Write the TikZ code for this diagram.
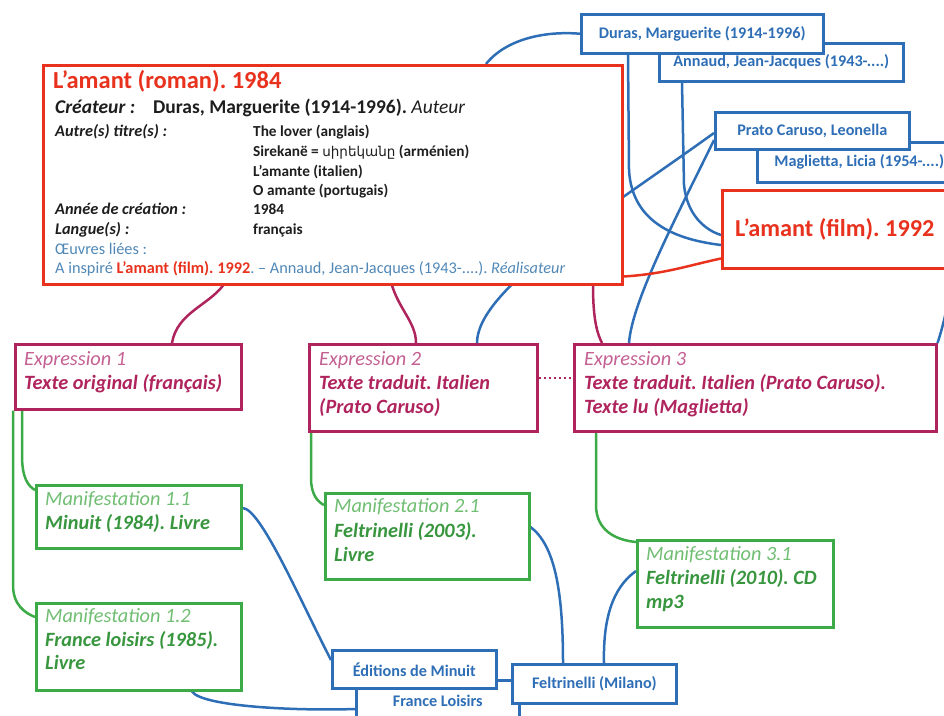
\documentclass[tikz,border=0pt]{standalone}
\usepackage{fontspec}
\setmainfont{Carlito}
\newfontfamily\armfont{DejaVu Sans}
\usetikzlibrary{calc}
\definecolor{cred}{RGB}{232,50,30}
\definecolor{cblue}{RGB}{46,110,182}
\definecolor{cmag}{RGB}{176,36,94}
\definecolor{cmagl}{RGB}{196,96,146}
\definecolor{cgreen}{RGB}{60,170,70}
\definecolor{cgreenl}{RGB}{112,190,114}
\definecolor{cgreent}{RGB}{56,150,62}
\definecolor{cteal}{RGB}{80,136,184}
\definecolor{cdark}{RGB}{30,30,30}
\pgfdeclarelayer{bg}
\pgfsetlayers{bg,main}
\newcommand{\valfnt}{\fontsize{15.3}{17}\selectfont}
\newcommand{\lblfnt}{\fontsize{16.3}{18}\selectfont}
\newcommand{\midfnt}{\fontsize{20.3}{22}\selectfont}
\frenchspacing
\begin{document}
\begin{tikzpicture}[x=1pt,y=-1pt,
 box/.style={anchor=north west, inner sep=0pt, fill=white, line width=2.5pt},
 redbox/.style={box,draw=cred},
 bluebox/.style={box,draw=cblue,text=cblue,font=\fontsize{16.2}{18}\selectfont\bfseries},
 magbox/.style={box,draw=cmag},
 greenbox/.style={box,draw=cgreen},
 txt/.style={anchor=base west, inner sep=0pt},
 bl/.style={draw=cblue,line width=2.5pt},
 ml/.style={draw=cmag,line width=2.5pt},
 gl/.style={draw=cgreen,line width=2.5pt},
 rl/.style={draw=cred,line width=2.5pt},
 exphead/.style={txt,text=cmagl,font=\midfnt\itshape},
 expbody/.style={txt,text=cmag,font=\midfnt\bfseries\itshape},
 manhead/.style={txt,text=cgreenl,font=\midfnt\itshape},
 manbody/.style={txt,text=cgreent,font=\midfnt\bfseries\itshape},
 lbl/.style={txt,text=cdark,font=\lblfnt\bfseries\itshape},
 val/.style={txt,text=cdark,font=\valfnt\bfseries},
]
\useasboundingbox (0,0) rectangle (944,715);
\clip (0,0) rectangle (944,715);

% ---------- boxes ----------
\node[redbox, minimum width=579pt, minimum height=219pt] (roman) at (42,64) {};
\node[redbox, minimum width=225pt, minimum height=78pt, text=cred, font=\fontsize{24.3}{26}\selectfont\bfseries] (film) at (721,189) {L’amant (film). 1992};

\node[bluebox, minimum width=244pt, minimum height=38pt] (annaud) at (658,42) {Annaud, Jean-Jacques (1943-....)};
\node[bluebox, minimum width=242pt, minimum height=39pt] (duras) at (580,13) {Duras, Marguerite (1914-1996)};
\node[bluebox, minimum width=204pt, minimum height=40pt] (maglietta) at (756,141) {Maglietta, Licia (1954-....)};
\node[bluebox, minimum width=194pt, minimum height=37pt] (prato) at (714,111) {Prato Caruso, Leonella};

\node[magbox, minimum width=226pt, minimum height=65pt] (e1) at (14,343) {};
\node[magbox, minimum width=228pt, minimum height=87pt] (e2) at (308,343) {};
\node[magbox, minimum width=362pt, minimum height=87pt] (e3) at (573,343) {};

\node[greenbox, minimum width=205pt, minimum height=63pt] (m11) at (35,484) {};
\node[greenbox, minimum width=205pt, minimum height=87pt] (m12) at (35,602) {};
\node[greenbox, minimum width=204pt, minimum height=86pt] (m21) at (324,492) {};
\node[greenbox, minimum width=196pt, minimum height=87pt] (m31) at (636,539) {};

\node[bluebox, minimum width=163pt, minimum height=42pt] (france) at (355,679) {France Loisirs};
\node[bluebox, minimum width=164pt, minimum height=38pt] (editions) at (331,649) {Éditions de Minuit};
\node[bluebox, minimum width=164pt, minimum height=39pt] (feltr) at (511,663) {Feltrinelli (Milano)};

% ---------- texts of the work box ----------
\node[txt, text=cred, font=\fontsize{24.5}{26}\selectfont\bfseries] (title) at (53,88) {L’amant (roman). 1984};
\node[txt, text=cdark, font=\fontsize{19.5}{21}\selectfont\bfseries\itshape] (crea) at (55,113) {Créateur :};
\node[txt, text=cdark, font=\fontsize{19.5}{21}\selectfont\bfseries] (creaval) at (153,113) {Duras, Marguerite (1914-1996). {\mdseries\itshape Auteur}};
\node[lbl] (lautre) at (55,136) {Autre(s) titre(s) :};
\node[val] (v1) at (253,136) {The lover (anglais)};
\node[val] (v2) at (253,156) {Sirekanë = {\armfont\mdseries\fontsize{13.5}{15}\selectfont սիրեկանը} (arménien)};
\node[val] (v3) at (253,176) {L’amante (italien)};
\node[val] (v4) at (253,195) {O amante (portugais)};
\node[lbl] (lannee) at (55,214) {Année de création :};
\node[val] (v5) at (253,214) {1984};
\node[lbl] (llangue) at (55,234) {Langue(s) :};
\node[val] (v6) at (253,234) {français};
\node[txt, text=cteal, font=\lblfnt] (loeuvres) at (55,254) {Œuvres liées :};
\node[txt, text=cteal, font=\lblfnt] (linspire) at (55,273) {A inspiré \textcolor{cred}{\bfseries L’amant (film). 1992}. – Annaud, Jean-Jacques (1943-....). \textit{Réalisateur}};

% ---------- expression texts ----------
\node[exphead] (e1h) at (24,365) {Expression 1};
\node[expbody] (e1b) at (24,389) {Texte original (français)};
\node[exphead] (e2h) at (319,365) {Expression 2};
\node[expbody] (e2b) at (319,389) {Texte traduit. Italien};
\node[expbody] (e2c) at (319,413) {(Prato Caruso)};
\node[exphead] (e3h) at (584,365) {Expression 3};
\node[expbody] (e3b) at (584,389) {Texte traduit. Italien (Prato Caruso).};
\node[expbody] (e3c) at (584,413) {Texte lu (Maglietta)};

% ---------- manifestation texts ----------
\node[manhead] (m11h) at (45,505) {Manifestation 1.1};
\node[manbody] (m11b) at (45,529) {Minuit (1984). Livre};
\node[manhead] (m12h) at (45,622) {Manifestation 1.2};
\node[manbody] (m12b) at (45,646) {France loisirs (1985).};
\node[manbody] (m12c) at (45,669) {Livre};
\node[manhead] (m21h) at (334,512) {Manifestation 2.1};
\node[manbody] (m21b) at (334,537) {Feltrinelli (2003).};
\node[manbody] (m21c) at (334,561) {Livre};
\node[manhead] (m31h) at (646,560) {Manifestation 3.1};
\node[manbody] (m31b) at (646,584) {Feltrinelli (2010). CD};
\node[manbody] (m31c) at (646,608) {mp3};

% ---------- connectors ----------
\begin{pgfonlayer}{bg}
% persons to works
\draw[bl] (duras.west) .. controls +(-35,-3) and +(20,-25) .. ($(roman.north west)+(444,0)$);
\draw[bl] ($(duras.south west)+(48,0)$) -- (629,170) .. controls (632,225) and (680,240) .. ($(film.north west)+(0,56)$);
\draw[bl] ($(annaud.south west)+(24,0)$) -- (684,185) .. controls (687,215) and (705,230) .. ($(film.north west)+(0,46)$);
\draw[bl] ($(prato.north west)+(0,22)$) .. controls (600,215) and (477,290) .. ($(e2.north west)+(169,0)$);
\draw[bl] ($(prato.north west)+(0,29)$) .. controls (680,210) and (632,300) .. ($(e3.north west)+(56,0)$);
\draw[bl] ($(maglietta.south east)+(-5,0)$) .. controls +(0,80) and +(10,-30) .. (e3.north east);
% work to work
\draw[rl] ($(roman.south east)+(0,-9)$) .. controls (665,274) and (690,265) .. ($(film.south west)+(0,-11)$);
% work to expressions
\draw[ml] ($(roman.south west)+(181,0)$) .. controls +(-15,20) and +(5,-30) .. ($(e1.north west)+(158,0)$);
\draw[ml] ($(roman.south west)+(350,0)$) .. controls +(8,25) and +(0,-20) .. ($(e2.north west)+(108,0)$);
\draw[ml] ($(roman.south west)+(551,0)$) .. controls +(0,37) and +(-4,-8) .. ($(e3.north west)+(29,0)$);
\draw[ml, dash pattern=on 2.5pt off 2.5pt] ($(e2.north east)+(0,35)$) -- ($(e3.north west)+(0,35)$);
% expressions to manifestations
\draw[gl] ($(e1.south west)+(8,0)$) -- (22,455) .. controls (22,478) and (28,486) .. ($(m11.north west)+(0,6)$);
\draw[gl] ($(e1.south west)+(-1,0)$) -- (13,585) .. controls (13,605) and (25,613) .. ($(m12.north west)+(0,15)$);
\draw[gl] ($(e2.south west)+(3,0)$) -- (311,478) .. controls (311,495) and (318,502) .. ($(m21.north west)+(0,13)$);
\draw[gl] ($(e3.south west)+(23,0)$) -- (596,505) .. controls (596,530) and (615,540) .. ($(m31.north west)+(0,3)$);
% manifestations to publishers
\draw[bl] ($(m11.north east)+(0,24)$) .. controls +(18,0) and +(-31,-60) .. ($(editions.north west)+(0,11)$);
\draw[bl] ($(m12.south west)+(157,0)$) .. controls +(10,15) and +(-60,2) .. ($(france.north west)+(0,30)$);
\draw[bl] ($(m21.north east)+(0,35)$) .. controls +(24,18) and +(0,-73) .. ($(feltr.north west)+(52,0)$);
\draw[bl] ($(m31.north west)+(0,32)$) .. controls +(-24,17) and +(-1,-43) .. ($(feltr.north west)+(93,0)$);
\end{pgfonlayer}
\end{tikzpicture}
\end{document}
